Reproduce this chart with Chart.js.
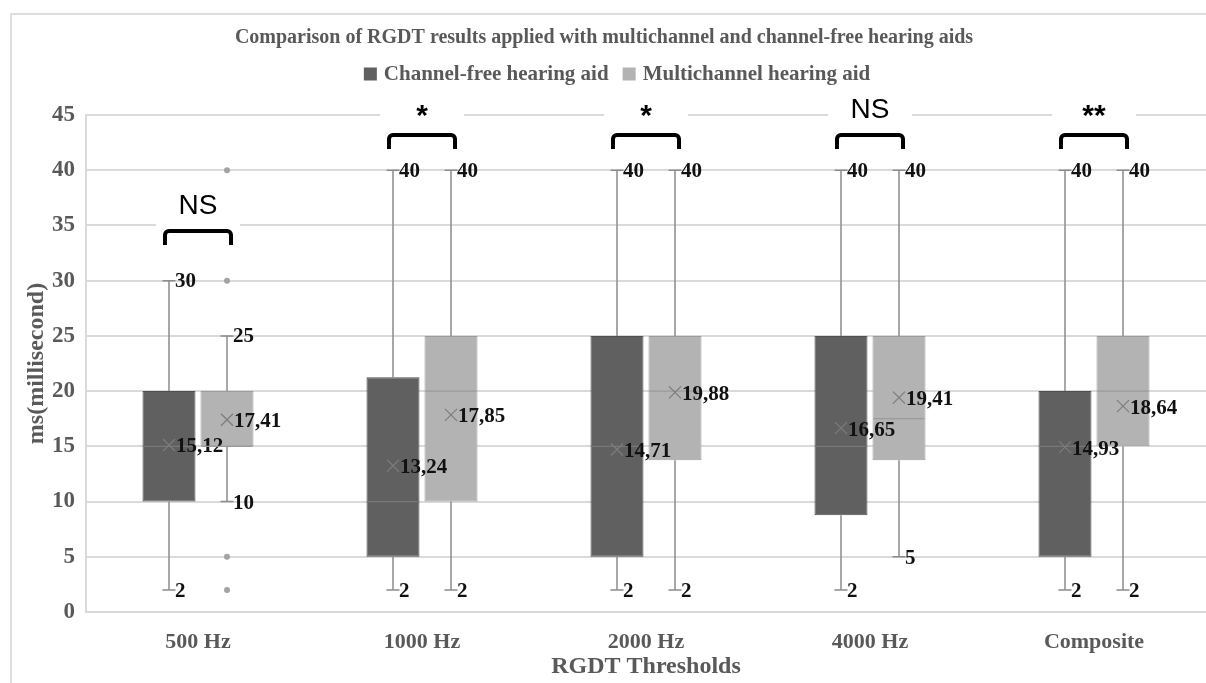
<!DOCTYPE html>
<html><head><meta charset="utf-8">
<script src="https://cdn.jsdelivr.net/npm/chart.js@4.4.0/dist/chart.umd.min.js"></script>
<style>html,body{margin:0;padding:0;background:#fff;}#wrap{position:relative;width:1206px;height:683px;}</style>
</head><body><div id="wrap"><canvas id="c" width="1206" height="683"></canvas></div>
<script>
const chartTitle = 'Comparison of RGDT results applied with multichannel and channel-free hearing aids';
const categories = ['500 Hz', '1000 Hz', '2000 Hz', '4000 Hz', 'Composite'];
const seriesNames = ['Channel-free hearing aid', 'Multichannel hearing aid'];
const yTicks = [0, 5, 10, 15, 20, 25, 30, 35, 40, 45];

const cfMin    = [2, 2, 2, 2, 2];
const cfQ1     = [10, 5, 5, 8.75, 5];
const cfMedian = [15, 10, 15, 15, 15];
const cfQ3     = [20, 21.25, 25, 25, 20];
const cfMax    = [30, 40, 40, 40, 40];
const cfMean   = [15.12, 13.24, 14.71, 16.65, 14.93];
const cfOutliers = [[], [], [], [], []];

const mcMin    = [10, 2, 2, 5, 2];
const mcQ1     = [15, 10, 13.75, 13.75, 15];
const mcMedian = [15, 20, 20, 17.5, 20];
const mcQ3     = [20, 25, 25, 25, 25];
const mcMax    = [25, 40, 40, 40, 40];
const mcMean   = [17.41, 17.85, 19.88, 19.41, 18.64];
const mcOutliers = [[40, 30, 5, 2], [], [], [], []];

const sigLabels = ['NS', '*', '*', 'NS', '**'];
const sigLevel  = [34.5, 43.2, 43.2, 43.2, 43.2];

const stats = [
  {min: cfMin, q1: cfQ1, med: cfMedian, q3: cfQ3, max: cfMax, mean: cfMean, out: cfOutliers, medColor: '#777777'},
  {min: mcMin, q1: mcQ1, med: mcMedian, q3: mcQ3, max: mcMax, mean: mcMean, out: mcOutliers, medColor: '#9a9a9a'}
];
const colors = ['#606060', '#b3b3b3'];
const borders = ['#4f4f4f', '#9c9c9c'];
const SERIF = '"Liberation Serif", "Times New Roman", serif';
const SANS = '"Liberation Sans", Arial, sans-serif';
const fmt = v => v.toFixed(2).replace('.', ',');

const boxPlugin = {
  id: 'boxExtras',
  beforeDraw(chart) {
    const ctx = chart.ctx;
    ctx.save();
    ctx.fillStyle = '#fff';
    ctx.fillRect(0, 0, chart.width, chart.height);
    ctx.strokeStyle = '#dedede';
    ctx.lineWidth = 2;
    ctx.beginPath();
    ctx.moveTo(11, 683); ctx.lineTo(11, 14); ctx.lineTo(1206, 14);
    ctx.stroke();
    // title
    ctx.fillStyle = '#595959';
    ctx.font = 'bold 20px ' + SERIF;
    ctx.textAlign = 'center';
    ctx.textBaseline = 'middle';
    ctx.fillText(chartTitle, 604, 38);
    // legend
    ctx.font = 'bold 21px ' + SERIF;
    const sq = 13, gap = 7, sp = 14;
    const w0 = ctx.measureText(seriesNames[0]).width;
    const w1 = ctx.measureText(seriesNames[1]).width;
    const total = sq + gap + w0 + sp + sq + gap + w1;
    let x = 617 - total / 2;
    const ly = 74;
    ctx.textAlign = 'left';
    for (let i = 0; i < 2; i++) {
      ctx.fillStyle = colors[i];
      ctx.fillRect(x, ly - sq / 2, sq, sq);
      x += sq + gap;
      ctx.fillStyle = '#595959';
      ctx.fillText(seriesNames[i], x, ly + 1);
      x += (i === 0 ? w0 : w1) + sp;
    }
    ctx.restore();
  },
  afterDatasetsDraw(chart) {
    const ctx = chart.ctx;
    const ys = chart.scales.y;
    ctx.save();
    for (let d = 0; d < 2; d++) {
      const meta = chart.getDatasetMeta(d);
      const s = stats[d];
      meta.data.forEach((bar, j) => {
        const x = bar.x, w = bar.width;
        const yMin = ys.getPixelForValue(s.min[j]);
        const yMax = ys.getPixelForValue(s.max[j]);
        const yQ1 = ys.getPixelForValue(s.q1[j]);
        const yQ3 = ys.getPixelForValue(s.q3[j]);
        ctx.strokeStyle = '#8c8c8c';
        ctx.lineWidth = 1.5;
        ctx.beginPath();
        ctx.moveTo(x, yQ3); ctx.lineTo(x, yMax);
        ctx.moveTo(x, yQ1); ctx.lineTo(x, yMin);
        ctx.moveTo(x - 6.5, yMax); ctx.lineTo(x + 6.5, yMax);
        ctx.moveTo(x - 6.5, yMin); ctx.lineTo(x + 6.5, yMin);
        ctx.stroke();
        // median
        const yMed = ys.getPixelForValue(s.med[j]);
        ctx.strokeStyle = s.medColor;
        ctx.lineWidth = 1.2;
        ctx.beginPath();
        ctx.moveTo(x - w / 2 + 1, yMed); ctx.lineTo(x + w / 2 - 1, yMed);
        ctx.stroke();
        // outliers
        ctx.fillStyle = '#a3a3a3';
        s.out[j].forEach(v => {
          ctx.beginPath();
          ctx.arc(x, ys.getPixelForValue(v), 3, 0, Math.PI * 2);
          ctx.fill();
        });
        // mean marker
        const yMean = ys.getPixelForValue(s.mean[j]);
        ctx.strokeStyle = '#7c7c7c';
        ctx.lineWidth = 1.2;
        ctx.beginPath();
        ctx.moveTo(x - 6, yMean - 6); ctx.lineTo(x + 6, yMean + 6);
        ctx.moveTo(x - 6, yMean + 6); ctx.lineTo(x + 6, yMean - 6);
        ctx.stroke();
        // labels
        ctx.fillStyle = '#111';
        ctx.font = 'bold 21px ' + SERIF;
        ctx.textAlign = 'left';
        ctx.textBaseline = 'middle';
        ctx.fillText(fmt(s.mean[j]), x + 7, yMean + 2);
        ctx.fillText(String(s.max[j]), x + 6, yMax + 1);
        ctx.fillText(String(s.min[j]), x + 6, yMin + 2);
      });
    }
    // significance brackets
    const m0 = chart.getDatasetMeta(0), m1 = chart.getDatasetMeta(1);
    categories.forEach((c, j) => {
      const xl = m0.data[j].x, xr = m1.data[j].x;
      const cx = (xl + xr) / 2, half = (xr - xl) / 2 + 4;
      const yb = ys.getPixelForValue(sigLevel[j]);
      ctx.fillStyle = '#fff';
      ctx.fillRect(cx - 42, yb - 38, 84, 54);
      ctx.strokeStyle = '#000';
      ctx.lineWidth = 4;
      ctx.lineJoin = 'round';
      ctx.lineCap = 'butt';
      ctx.beginPath();
      ctx.moveTo(cx - half, yb + 14);
      ctx.arcTo(cx - half, yb, cx, yb, 4);
      ctx.arcTo(cx + half, yb, cx + half, yb + 14, 4);
      ctx.lineTo(cx + half, yb + 14);
      ctx.stroke();
      ctx.fillStyle = '#000';
      const star = sigLabels[j].indexOf('*') >= 0;
      ctx.font = (star ? 'bold 30px ' : '28px ') + SANS;
      ctx.textAlign = 'center';
      ctx.textBaseline = 'middle';
      ctx.fillText(sigLabels[j], cx, yb - (star ? 18 : 25));
    });
    ctx.restore();
  }
};

new Chart(document.getElementById('c'), {
  type: 'bar',
  data: {
    labels: categories,
    datasets: [0, 1].map(d => ({
      label: seriesNames[d],
      data: categories.map((c, j) => [stats[d].q1[j], stats[d].q3[j]]),
      backgroundColor: colors[d],
      borderColor: borders[d],
      borderWidth: 1,
      borderSkipped: false,
      categoryPercentage: 0.518,
      barPercentage: 0.914
    }))
  },
  options: {
    responsive: false,
    animation: false,
    devicePixelRatio: 1,
    layout: {padding: {top: 115, right: 0, left: 0, bottom: 0}},
    plugins: {legend: {display: false}, title: {display: false}, tooltip: {enabled: false}},
    scales: {
      x: {
        grid: {display: false, drawTicks: false},
        border: {display: true, color: '#d9d9d9', width: 2},
        ticks: {font: {family: SERIF, weight: 'bold', size: 22}, color: '#595959', padding: 17},
        title: {display: true, text: 'RGDT Thresholds', font: {family: SERIF, weight: 'bold', size: 24}, color: '#595959', padding: {top: 2, bottom: 2}},
        afterFit(s) { s.height = 71; }
      },
      y: {
        min: yTicks[0], max: yTicks[yTicks.length - 1],
        afterBuildTicks(s) { s.ticks = yTicks.map(v => ({value: v})); },
        ticks: {font: {family: SERIF, weight: 'bold', size: 23}, color: '#595959', padding: 11},
        grid: {color: '#dadada', lineWidth: 2, drawTicks: false},
        border: {display: true, color: '#d9d9d9', width: 2},
        title: {display: true, text: 'ms(millisecond)', font: {family: SERIF, weight: 'bold', size: 24}, color: '#595959', padding: {top: 22, bottom: 0}},
        afterFit(s) { s.width = 86; }
      }
    }
  },
  plugins: [boxPlugin]
});
</script>
</body></html>
